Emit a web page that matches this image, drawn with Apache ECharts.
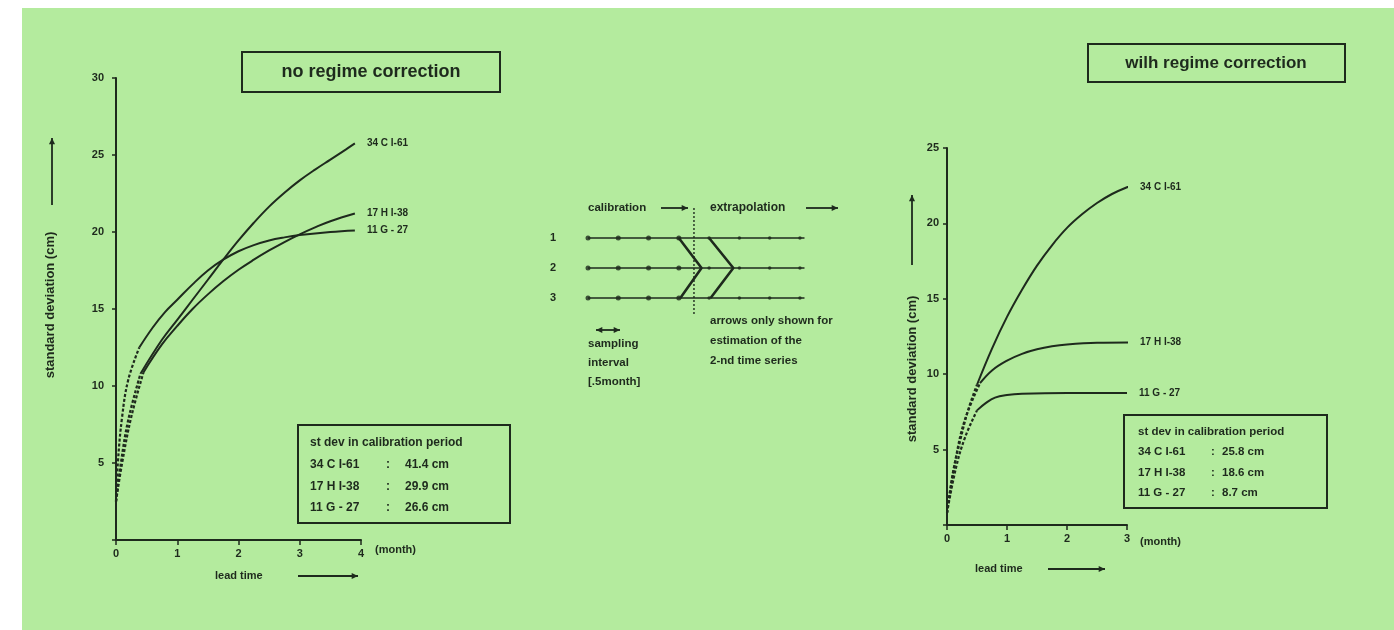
<!DOCTYPE html>
<html><head><meta charset="utf-8">
<script src="https://cdn.jsdelivr.net/npm/echarts@6/dist/echarts.min.js"></script>
<style>html,body{margin:0;padding:0;background:#fff}#c{width:1394px;height:630px}</style>
</head><body><div id="c"></div><script>
// ---------------- data ----------------
const stationNames = ['34 C I-61', '17 H I-38', '11 G - 27'];
const legendNames = ['34 C I-61', '17 H I-38', '11 G - 27'];
const calibLeft = ['41.4 cm', '29.9 cm', '26.6 cm'];
const calibRight = ['25.8 cm', '18.6 cm', '8.7 cm'];

// left panel: no regime correction (lead time in months, std dev in cm)
const left34cDashed = [[0, 2.5], [0.08, 5], [0.2, 7.8], [0.4, 10.8]];
const left34cSolid = [[0.4, 10.8], [0.75, 13.0], [1.0, 14.3], [1.25, 15.6], [1.5, 16.9], [1.75, 18.2], [2.0, 19.45], [2.25, 20.6], [2.5, 21.65], [2.75, 22.55], [3.0, 23.35], [3.25, 24.05], [3.5, 24.7], [3.75, 25.35], [3.9, 25.75]];
const left17hDashed = [[0, 2.5], [0.1, 5], [0.25, 8], [0.45, 10.9]];
const left17hSolid = [[0.45, 10.9], [0.75, 12.7], [1.0, 13.9], [1.25, 15.0], [1.5, 15.95], [1.75, 16.8], [2.0, 17.55], [2.25, 18.2], [2.5, 18.8], [2.75, 19.35], [3.0, 19.85], [3.25, 20.3], [3.5, 20.7], [3.9, 21.2]];
const left11gDashed = [[0, 2.5], [0.03, 5], [0.1, 8], [0.2, 10.4], [0.38, 12.5]];
const left11gSolid = [[0.38, 12.5], [0.6, 13.8], [0.8, 14.8], [1.0, 15.6], [1.25, 16.6], [1.5, 17.5], [1.75, 18.2], [2.0, 18.75], [2.25, 19.15], [2.5, 19.45], [2.75, 19.65], [3.0, 19.8], [3.5, 20.0], [3.9, 20.1]];

// right panel: with regime correction
const right34cDashed = [[0, 0.8], [0.1, 3.5], [0.22, 5.6], [0.35, 7.6], [0.5, 9.3]];
const right34cSolid = [[0.5, 9.3], [0.75, 11.7], [1.0, 13.8], [1.25, 15.6], [1.5, 17.2], [1.75, 18.55], [2.0, 19.7], [2.25, 20.6], [2.5, 21.35], [2.75, 21.95], [3.0, 22.4], [3.25, 22.75], [3.58, 23.15]];
const right17hDashed = [[0, 0.8], [0.15, 4.5], [0.3, 7.0], [0.55, 9.4]];
const right17hSolid = [[0.55, 9.4], [0.75, 10.25], [1.0, 10.9], [1.25, 11.35], [1.5, 11.65], [1.75, 11.85], [2.0, 11.97], [2.5, 12.08], [3.05, 12.1]];
const right11gDashed = [[0, 0.8], [0.15, 3.8], [0.3, 5.8], [0.5, 7.6]];
const right11gSolid = [[0.5, 7.6], [0.65, 8.1], [0.8, 8.45], [1.0, 8.62], [1.25, 8.7], [2.0, 8.75], [3.0, 8.75]];

// middle schematic: sample index vs time-series row
const schemeRows = [1, 2, 3];
const calibSamples = [0, 1, 2, 3];
const extrapSamples = [4, 5, 6, 7];
const rowLineEnd = 7.15;
const chevron1 = [[3, 1], [3.75, 2], [3.05, 3]];
const chevron2 = [[4, 1], [4.8, 2], [4.05, 3]];
const separator = [[3.5, 0], [3.5, 3.57]];

// ---------------- styling ----------------
const INK = '#1e2a1d';
const BG = '#b4eb9e';
const FONT = '"Liberation Sans", Arial, sans-serif';

function curve(data, g, dashed, label) {
  return {
    type: 'line', data: data, xAxisIndex: g, yAxisIndex: g,
    smooth: 0.4, showSymbol: false, clip: false, silent: true,
    lineStyle: { color: INK, width: dashed ? 2.2 : 2, type: dashed ? [3, 2] : 'solid' },
    endLabel: label ? { show: true, formatter: label, color: INK, fontFamily: FONT, fontWeight: 'bold', fontSize: 10, distance: 12 } : { show: false }
  };
}

function valueAxis(g, min, max, extra) {
  return Object.assign({
    type: 'value', gridIndex: g, min: min, max: max, interval: 1,
    splitLine: { show: false },
    axisLine: { show: true, lineStyle: { color: INK, width: 2 } },
    axisTick: { show: true, length: 5, lineStyle: { color: INK, width: 1.5 } },
    axisLabel: { color: INK, fontFamily: FONT, fontWeight: 'bold', fontSize: 11, margin: 8,
      formatter: v => String(v) }
  }, extra || {});
}

const series = [
  curve(left34cDashed, 0, true), curve(left34cSolid, 0, false, stationNames[0]),
  curve(left17hDashed, 0, true), curve(left17hSolid, 0, false, stationNames[1]),
  curve(left11gDashed, 0, true), curve(left11gSolid, 0, false, stationNames[2]),
  curve(right34cDashed, 1, true), curve(right34cSolid, 1, false, stationNames[0]),
  curve(right17hDashed, 1, true), curve(right17hSolid, 1, false, stationNames[1]),
  curve(right11gDashed, 1, true), curve(right11gSolid, 1, false, stationNames[2])
];

// schematic rows
schemeRows.forEach(r => {
  series.push({ type: 'line', xAxisIndex: 2, yAxisIndex: 2, data: [[0, r], [rowLineEnd, r]],
    showSymbol: false, silent: true, lineStyle: { color: INK, width: 1.6 } });
});
series.push({ type: 'scatter', xAxisIndex: 2, yAxisIndex: 2, symbolSize: 5, silent: true,
  itemStyle: { color: INK },
  data: schemeRows.flatMap(r => calibSamples.map(s => [s, r])) });
series.push({ type: 'scatter', xAxisIndex: 2, yAxisIndex: 2, symbolSize: 3.5, silent: true,
  itemStyle: { color: INK },
  data: schemeRows.flatMap(r => extrapSamples.map(s => [s, r])) });
[chevron1, chevron2].forEach(ch => {
  series.push({ type: 'line', xAxisIndex: 2, yAxisIndex: 2, data: ch, showSymbol: false, silent: true,
    lineStyle: { color: INK, width: 2.6 } });
});
series.push({ type: 'line', xAxisIndex: 2, yAxisIndex: 2, data: separator, showSymbol: false, silent: true,
  lineStyle: { color: INK, width: 1.4, type: [2, 2] } });

// ---------------- annotations ----------------
const txt = (x, y, t, size, extra) => Object.assign({ type: 'text', x: x, y: y,
  style: { text: t, fill: INK, font: 'bold ' + size + 'px ' + FONT, textVerticalAlign: 'middle' } }, extra || {});
const ctxt = (x, y, t, size, rot) => ({ type: 'text', x: x, y: y, rotation: rot || 0,
  style: { text: t, fill: INK, font: 'bold ' + size + 'px ' + FONT, textAlign: 'center', textVerticalAlign: 'middle' } });
function arrow(x1, y1, x2, y2, both) {
  const els = [{ type: 'line', shape: { x1: x1, y1: y1, x2: x2, y2: y2 }, style: { stroke: INK, lineWidth: 1.8 } }];
  const head = (ax, ay, bx, by) => {
    const a = Math.atan2(ay - by, ax - bx), L = 7, w = 0.45;
    return { type: 'polygon', shape: { points: [[ax, ay],
      [ax - L * Math.cos(a - w), ay - L * Math.sin(a - w)],
      [ax - L * Math.cos(a + w), ay - L * Math.sin(a + w)]] }, style: { fill: INK } };
  };
  els.push(head(x2, y2, x1, y1));
  if (both) els.push(head(x1, y1, x2, y2));
  return els;
}
const box = (x, y, w, h) => ({ type: 'rect', shape: { x: x, y: y, width: w, height: h },
  style: { fill: 'none', stroke: INK, lineWidth: 2 } });

const graphics = [
  { type: 'rect', shape: { x: 0, y: 0, width: 22, height: 630 }, style: { fill: '#ffffff' } },
  { type: 'rect', shape: { x: 0, y: 0, width: 1394, height: 8 }, style: { fill: '#ffffff' } },
  // titles
  box(242, 52, 258, 40), ctxt(371, 72, 'no regime correction', 18),
  box(1088, 44, 257, 38), ctxt(1216, 63, 'wilh regime correction', 17),
  // y axis names
  ctxt(50, 305, 'standard deviation (cm)', 13, Math.PI / 2),
  ...arrow(52, 205, 52, 138),
  ctxt(912, 369, 'standard deviation (cm)', 13, Math.PI / 2),
  ...arrow(912, 265, 912, 195),
  // x axis names
  txt(215, 576, 'lead time', 11), ...arrow(298, 576, 358, 576),
  txt(375, 550, '(month)', 11),
  txt(975, 569, 'lead time', 11), ...arrow(1048, 569, 1105, 569),
  txt(1140, 542, '(month)', 11),
  // legend boxes
  box(298, 425, 212, 98),
  txt(310, 443, 'st dev in calibration period', 12),
  box(1124, 415, 203, 93),
  txt(1138, 432, 'st dev in calibration period', 11.5),
  // schematic texts
  txt(588, 208, 'calibration', 11.5), ...arrow(661, 208, 688, 208),
  txt(710, 208, 'extrapolation', 12), ...arrow(806, 208, 838, 208),
  ...arrow(596, 330, 620, 330, true),
  txt(588, 344, 'sampling', 11.5), txt(588, 363, 'interval', 11.5), txt(588, 382, '[.5month]', 11.5),
  txt(710, 321, 'arrows only shown for', 11.5), txt(710, 341, 'estimation of the', 11.5), txt(710, 361, '2-nd time series', 11.5)
];
legendNames.forEach((n, i) => {
  graphics.push(txt(310, 465 + i * 21.5, n, 12), txt(386, 465 + i * 21.5, ':', 12), txt(405, 465 + i * 21.5, calibLeft[i], 12));
  graphics.push(txt(1138, 452 + i * 20.5, n, 11.5), txt(1211, 452 + i * 20.5, ':', 11.5), txt(1222, 452 + i * 20.5, calibRight[i], 11.5));
});

const yLab = { color: INK, fontFamily: FONT, fontWeight: 'bold', fontSize: 11, margin: 12, formatter: v => v === 0 ? '' : String(v) };
const yTick = { show: true, length: 4, lineStyle: { color: INK, width: 1.5 } };

const option = {
  backgroundColor: BG,
  animation: false,
  grid: [
    { left: 116, top: 78, width: 245, height: 462 },
    { left: 947, top: 148, width: 180, height: 377 },
    { left: 588, top: 208, width: 218, height: 108 }
  ],
  xAxis: [
    valueAxis(0, 0, 4),
    valueAxis(1, 0, 3),
    { type: 'value', gridIndex: 2, min: 0, max: 7.2, show: false }
  ],
  yAxis: [
    valueAxis(0, 0, 30, { interval: 5, axisTick: yTick, axisLabel: yLab }),
    valueAxis(1, 0, 25, { interval: 5, axisTick: yTick, axisLabel: Object.assign({}, yLab, { margin: 8 }) }),
    { type: 'value', gridIndex: 2, min: 0, max: 3.6, interval: 1, inverse: true,
      axisLine: { show: false }, axisTick: { show: false }, splitLine: { show: false },
      axisLabel: { color: INK, fontFamily: FONT, fontWeight: 'bold', fontSize: 11, margin: 32,
        formatter: v => schemeRows.includes(v) ? String(v) : '' } }
  ],
  graphic: { elements: graphics },
  series: series
};
echarts.init(document.getElementById('c')).setOption(option);
</script></body></html>
